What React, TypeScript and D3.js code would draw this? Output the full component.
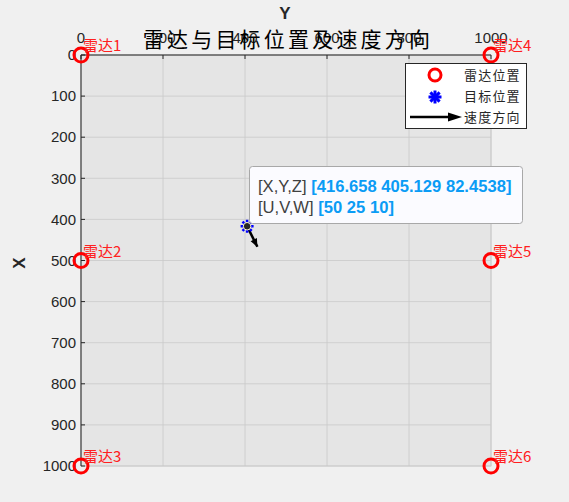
import React from "react";
import * as d3 from "d3";

// radar stations: X is the vertical axis (down), Y the horizontal axis
const radarNames = ["雷达1", "雷达2", "雷达3", "雷达4", "雷达5", "雷达6"];
const radarX = [0, 500, 1000, 0, 500, 1000];
const radarY = [0, 0, 0, 1000, 1000, 1000];

const targetPos = [416.658, 405.129, 82.4538];
const targetVel = [50, 25, 10];

const yAxisTicks = [0, 200, 400, 600, 800, 1000];
const xAxisTicks = [0, 100, 200, 300, 400, 500, 600, 700, 800, 900, 1000];

const legendItems = ["雷达位置", "目标位置", "速度方向"];

const FONT = "'Liberation Sans', Arial, 'Noto Sans CJK SC', sans-serif";
const CJK = "'Noto Sans CJK SC', 'Liberation Sans', sans-serif";

export default function App() {
  const width = 569;
  const height = 502;
  const left = 81, right = 491, top = 55, bottom = 466;

  // horizontal: Y, vertical: X (reversed, 0 at top)
  const sx = d3.scaleLinear().domain([0, 1000]).range([left, right]);
  const sy = d3.scaleLinear().domain([0, 1000]).range([top, bottom]);

  const tx = sx(targetPos[1]);
  const ty = sy(targetPos[0]);
  const arrowK = 1.0;
  const ax2 = sx(targetPos[1] + targetVel[1] * arrowK);
  const ay2 = sy(targetPos[0] + targetVel[0] * arrowK);

  const asterisk = (cx: number, cy: number, r: number, color: string, w: number) =>
    d3.range(4).map((i) => {
      const a = (i * Math.PI) / 4;
      return (
        <line key={i} x1={cx - r * Math.cos(a)} y1={cy - r * Math.sin(a)}
          x2={cx + r * Math.cos(a)} y2={cy + r * Math.sin(a)}
          stroke={color} strokeWidth={w} />
      );
    });

  const arrowHead = (x1: number, y1: number, x2: number, y2: number, len: number, half: number) => {
    const ang = Math.atan2(y2 - y1, x2 - x1);
    const bx = x2 - len * Math.cos(ang), by = y2 - len * Math.sin(ang);
    const px = -Math.sin(ang) * half, py = Math.cos(ang) * half;
    return `M${x2},${y2}L${bx + px},${by + py}L${bx - px},${by - py}Z`;
  };

  return (
    <svg width={width} height={height} style={{ position: "absolute", left: 0, top: 0 }}>
      <rect width={width} height={height} fill="#f0f0f0" />
      {/* plot area */}
      <rect x={left} y={top} width={right - left} height={bottom - top} fill="#e5e5e5" stroke="#cfcfcf" />
      {xAxisTicks.map((t) => (
        <line key={"h" + t} x1={left} x2={right} y1={sy(t)} y2={sy(t)} stroke="#c9c9c9" strokeWidth={0.8} />
      ))}
      {yAxisTicks.map((t) => (
        <line key={"v" + t} x1={sx(t)} x2={sx(t)} y1={top} y2={bottom} stroke="#c9c9c9" strokeWidth={0.8} />
      ))}
      {/* axes lines + ticks */}
      <line x1={left} x2={left} y1={top} y2={bottom} stroke="#262626" />
      <line x1={left} x2={right} y1={top} y2={top} stroke="#262626" />
      {xAxisTicks.map((t) => (
        <g key={"yt" + t}>
          <line x1={left} x2={left + 4} y1={sy(t)} y2={sy(t)} stroke="#262626" />
          <text x={left - 5} y={sy(t)} dy="0.35em" textAnchor="end" fontSize={15} fill="#262626" fontFamily={FONT}>{t}</text>
        </g>
      ))}
      {yAxisTicks.map((t) => (
        <g key={"xt" + t}>
          <line x1={sx(t)} x2={sx(t)} y1={top} y2={top + 4} stroke="#262626" />
          <text x={sx(t)} y={43} textAnchor="middle" fontSize={15} fill="#262626" fontFamily={FONT}>{t}</text>
        </g>
      ))}
      {/* axis labels and title */}
      <text x={285} y={19} textAnchor="middle" fontSize={17} fontWeight="bold" fill="#262626" fontFamily={FONT}>Y</text>
      <text x={19} y={263} textAnchor="middle" dy="0.35em" fontSize={17} fontWeight="bold" fill="#262626" fontFamily={FONT}
        transform="rotate(-90,19,263)">X</text>
      <text x={288} y={47} textAnchor="middle" fontSize={21} letterSpacing={3.2} fill="#000" fontFamily={CJK}>雷达与目标位置及速度方向</text>

      {/* radars */}
      {radarNames.map((n, i) => (
        <g key={n}>
          <circle cx={sx(radarY[i])} cy={sy(radarX[i])} r={7} fill="none" stroke="#ff0000" strokeWidth={3} />
          <text x={sx(radarY[i]) + 2} y={sy(radarX[i]) - 4} fontSize={15} fill="#ff2020" fontFamily={CJK}>{n}</text>
        </g>
      ))}

      {/* velocity arrow */}
      <line x1={tx} y1={ty} x2={ax2} y2={ay2} stroke="#000" strokeWidth={2.5} />
      <path d={arrowHead(tx, ty, ax2, ay2, 8, 3.5)} fill="#000" />
      {/* target */}
      {asterisk(tx, ty, 6.5, "#0000ff", 2.5)}
      <circle cx={tx} cy={ty} r={3.8} fill="#262626" stroke="#fff8d0" strokeWidth={1} />

      {/* data tip */}
      <rect x={249.5} y={166.5} width={273} height={57} rx={3} fill="#fbfbff" stroke="#a8a8a8" />
      <text x={258} y={192} fontSize={16.6} fontFamily={FONT}>
        <tspan fill="#404040">[X,Y,Z] </tspan>
        <tspan fill="#0a9cf5" fontWeight="bold">[{targetPos.join(" ")}]</tspan>
      </text>
      <text x={258} y={213} fontSize={16.6} fontFamily={FONT}>
        <tspan fill="#404040">[U,V,W] </tspan>
        <tspan fill="#0a9cf5" fontWeight="bold">[{targetVel.join(" ")}]</tspan>
      </text>

      {/* legend */}
      <rect x={405.5} y={63.5} width={121} height={65} fill="#fff" stroke="#262626" />
      <circle cx={435} cy={75} r={6} fill="none" stroke="#ff0000" strokeWidth={3} />
      {asterisk(435, 97, 6.5, "#0000ff", 3)}
      <line x1={410} y1={117} x2={452} y2={117} stroke="#000" strokeWidth={2.5} />
      <path d={arrowHead(410, 117, 462, 117, 14, 4.5)} fill="#000" />
      {legendItems.map((s, i) => (
        <text key={s} x={464} y={75 + i * 21} dy="0.35em" fontSize={13} letterSpacing={1.2} fill="#262626" fontFamily={CJK}>{s}</text>
      ))}
    </svg>
  );
}
